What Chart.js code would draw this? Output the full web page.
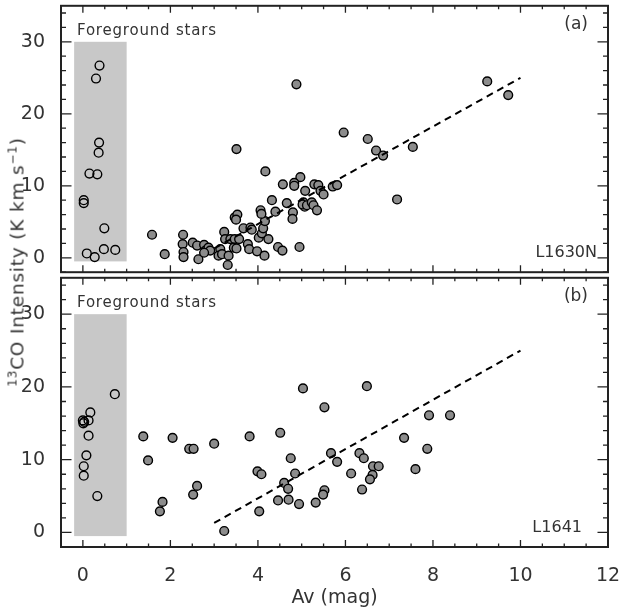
<!DOCTYPE html>
<html>
<head>
<meta charset="UTF-8">
<title>13CO intensity vs Av</title>
<script src="https://cdn.jsdelivr.net/npm/chart.js"></script>
<style>
  html, body { margin: 0; padding: 0; background: #fff; }
  #wrap { position: relative; width: 619px; height: 608px; overflow: hidden; }
  .panel { position: absolute; left: 0; width: 619px; }
  #panelA { top: 0; height: 278px; }
  #panelB { top: 272px; height: 336px; }
  #ytitle {
    position: absolute; left: 17px; top: 262px;
    transform: translate(-50%, -50%) rotate(-90deg);
    white-space: nowrap; color: #333;
    font: 18.5px 'DejaVu Sans', sans-serif; letter-spacing: 0.8px;
  }
  #ytitle sup { font-size: 12px; vertical-align: 7px; line-height: 0; }
</style>
</head>
<body>
<div id="wrap">
  <div class="panel" id="panelA"><canvas id="chartA"></canvas></div>
  <div class="panel" id="panelB"><canvas id="chartB"></canvas></div>
  <div id="ytitle"><sup>13</sup>CO Intensity (K km s<sup>−1</sup>)</div>
</div>

<script>
  // axis ticks
  const xTicks = [0, 2, 4, 6, 8, 10, 12];
  const yTicks = [0, 10, 20, 30];

  // shaded "foreground stars" zone: [xmin, xmax, ymin, ymax]
  const fgBox = [-0.2, 1.0, -0.5, 30];

  // dashed reference line
  const fitAv = [3, 10];
  const fitI = [1.3, 25];

  // (a) L1630N
  const fgAvA = [0.38, 0.30, 0.37, 0.36, 0.15, 0.33, 0.02, 0.02, 0.49, 0.09, 0.27, 0.48, 0.74];
  const fgIA  = [26.7, 24.9, 16.0, 14.6, 11.7, 11.6, 8.0, 7.6, 4.1, 0.6, 0.1, 1.2, 1.1];

  const cloudAvA = [1.58, 1.87, 2.29, 2.28, 2.30, 2.30, 2.51, 2.61, 2.64, 2.77, 2.80, 2.87, 2.91, 2.77,
                    3.14, 3.10, 3.18, 3.23, 3.25, 3.33, 3.31, 3.37, 3.47, 3.57, 3.45, 3.51, 3.47, 3.53,
                    3.50, 3.67, 3.83, 3.86, 3.77, 3.80, 3.98, 4.15, 4.02, 4.09, 4.24, 4.12, 4.16, 4.06,
                    4.08, 4.32, 4.40, 4.46, 4.56, 4.66, 4.80, 4.79, 4.95, 4.97, 4.57, 4.83, 4.83, 5.08,
                    5.29, 5.38, 5.43, 5.50, 5.71, 5.81, 5.04, 5.07, 5.02, 5.12, 5.23, 5.27, 5.35, 3.51,
                    4.17, 4.88, 5.96, 6.51, 6.70, 6.86, 7.54, 7.18, 9.24, 9.72];
  const cloudIA  = [3.2, 0.5, 3.2, 1.9, 0.8, 0.1, 2.1, 1.7, -0.2, 1.8, 1.0, 1.4, 1.0, 0.7,
                    1.2, 0.3, 0.5, 3.6, 2.6, 0.3, -1.0, 2.6, 2.6, 2.6, 1.4, 1.3, 5.6, 6.0,
                    5.3, 4.1, 4.2, 3.9, 1.9, 1.2, 0.9, 0.3, 2.8, 3.4, 2.6, 4.1, 5.1, 6.6,
                    6.1, 8.0, 6.4, 1.5, 1.0, 7.6, 6.3, 5.4, 1.5, 11.2, 10.2, 10.4, 10.0, 9.3,
                    10.2, 10.1, 9.3, 8.8, 9.9, 10.1, 7.7, 7.1, 7.4, 7.3, 7.7, 7.3, 6.6, 15.1,
                    12.0, 24.1, 17.4, 16.5, 14.9, 14.2, 15.4, 8.1, 24.5, 22.6];

  // (b) L1641
  const fgAvB = [0.73, 0.17, 0.00, 0.13, 0.01, 0.03, 0.13, 0.08, 0.02, 0.02, 0.33];
  const fgIB  = [19.0, 16.5, 15.4, 15.4, 15.0, 15.2, 13.3, 10.6, 9.1, 7.8, 5.0];

  const cloudAvB = [1.38, 1.49, 2.05, 1.82, 1.76, 2.43, 2.53, 2.52, 2.61,
                    3.00, 3.81, 4.51, 5.03, 6.49, 5.52, 4.75, 5.67, 5.81, 6.32, 6.42, 3.99, 4.08,
                    4.85, 6.13, 6.63, 6.76, 6.62, 6.56, 4.60, 4.69, 6.38, 5.52, 5.49, 4.46, 4.70,
                    4.94, 5.32, 4.03, 3.23, 7.91, 8.39, 7.34, 7.87, 7.60];
  const cloudIB  = [13.2, 9.9, 13.0, 4.2, 2.9, 11.5, 11.5, 5.2, 6.4,
                    12.2, 13.2, 13.7, 19.8, 20.1, 17.2, 10.2, 10.9, 9.7, 10.9, 10.2, 8.4, 8.0,
                    8.1, 8.1, 9.1, 9.1, 7.9, 7.3, 6.8, 6.0, 5.9, 5.8, 5.2, 4.4, 4.5,
                    3.9, 4.1, 2.9, 0.2, 16.1, 16.1, 13.0, 11.5, 8.7];

  const FONT = "'DejaVu Sans', sans-serif";
  const INK = '#333';

  function pts(xs, ys) {
    return xs.map((v, i) => ({ x: v, y: ys[i] }));
  }

  // shaded box, frame with inward ticks, panel labels
  const decor = {
    id: 'decor',
    beforeDatasetsDraw(chart) {
      const { ctx, scales: { x, y } } = chart;
      const l = x.getPixelForValue(fgBox[0]), r = x.getPixelForValue(fgBox[1]);
      const b = y.getPixelForValue(fgBox[2]), t = y.getPixelForValue(fgBox[3]);
      ctx.save();
      ctx.fillStyle = '#c8c8c8';
      ctx.fillRect(l, t, r - l, b - t);
      ctx.restore();
    },
    afterDraw(chart, args, o) {
      const { ctx, chartArea: a, scales: { x, y } } = chart;
      ctx.save();
      ctx.strokeStyle = '#222';
      ctx.lineWidth = 1.3;
      ctx.beginPath();
      for (let v = -0.5; v <= 12.001; v += 0.5) {
        const px = x.getPixelForValue(v);
        const len = xTicks.includes(v) ? 7 : 3.5;
        ctx.moveTo(px, a.bottom); ctx.lineTo(px, a.bottom - len);
        ctx.moveTo(px, a.top); ctx.lineTo(px, a.top + len);
      }
      for (let v = -2; v <= 35; v += 2) {
        const py = y.getPixelForValue(v);
        const len = yTicks.includes(v) ? 10.5 : 5;
        ctx.moveTo(a.left, py); ctx.lineTo(a.left + len, py);
        ctx.moveTo(a.right, py); ctx.lineTo(a.right - len, py);
      }
      ctx.stroke();
      ctx.lineWidth = 2;
      ctx.strokeRect(a.left, a.top, a.right - a.left, a.bottom - a.top);

      ctx.fillStyle = INK;
      ctx.textBaseline = 'middle';
      ctx.font = '15px ' + FONT;
      ctx.letterSpacing = '0.8px';
      ctx.textAlign = 'left';
      ctx.fillText('Foreground stars', a.left + 16, a.top + 25);
      ctx.letterSpacing = '0px';
      ctx.font = '17px ' + FONT;
      ctx.textAlign = 'right';
      ctx.fillText(o.tag, a.right - 20, a.top + 19);
      ctx.font = '16px ' + FONT;
      ctx.fillText(o.cloud, a.right - o.cloudInset, a.bottom - 19);
      ctx.restore();
    }
  };

  function makePanel(id, fg, cloud, opts) {
    const yScale = {
      type: 'linear', min: -2, max: 35,
      grid: { display: false }, border: { display: false },
      afterBuildTicks: s => { s.ticks = yTicks.map(v => ({ value: v })); },
      afterFit: s => { s.width = 61; s.paddingTop = 0; s.paddingBottom = 0; },
      ticks: { padding: 8, color: INK, font: { family: FONT, size: 19 } }
    };
    const xScale = {
      type: 'linear', min: -0.5, max: 12,
      display: opts.showX,
      grid: { display: false }, border: { display: false },
      afterBuildTicks: s => { s.ticks = xTicks.map(v => ({ value: v })); },
      afterFit: s => { s.height = opts.showX ? 61 : 0; s.paddingLeft = 0; s.paddingRight = 0; },
      ticks: { padding: 10, color: INK, font: { family: FONT, size: 19 } },
      title: {
        display: opts.showX, text: 'Av (mag)', color: INK,
        font: { family: FONT, size: 19, lineHeight: 1.0 }, padding: 0
      }
    };
    return new Chart(document.getElementById(id), {
      type: 'scatter',
      data: {
        datasets: [
          {
            type: 'line', data: pts(fitAv, fitI), showLine: true,
            borderColor: '#000', borderWidth: 2, borderDash: [7, 5], pointRadius: 0
          },
          {
            data: pts(fg[0], fg[1]), pointRadius: 4.4, pointBorderWidth: 1.4,
            pointBackgroundColor: 'rgba(0,0,0,0)', pointBorderColor: '#000'
          },
          {
            data: pts(cloud[0], cloud[1]), pointRadius: 4.4, pointBorderWidth: 1.4,
            pointBackgroundColor: '#8c8c8c', pointBorderColor: '#000'
          }
        ]
      },
      options: {
        responsive: true, maintainAspectRatio: false, animation: false,
        layout: { padding: { left: 0, right: 11, top: opts.top, bottom: opts.bottom } },
        scales: { x: xScale, y: yScale },
        plugins: {
          legend: { display: false }, tooltip: { enabled: false },
          decor: { tag: opts.tag, cloud: opts.cloud, cloudInset: opts.cloudInset }
        }
      },
      plugins: [decor]
    });
  }

  makePanel('chartA', [fgAvA, fgIA], [cloudAvA, cloudIA],
    { showX: false, top: 1, bottom: 4, tag: '(a)', cloud: 'L1630N', cloudInset: 11 });
  makePanel('chartB', [fgAvB, fgIB], [cloudAvB, cloudIB],
    { showX: true, top: 2, bottom: 0, tag: '(b)', cloud: 'L1641', cloudInset: 26 });
</script>
</body>
</html>
